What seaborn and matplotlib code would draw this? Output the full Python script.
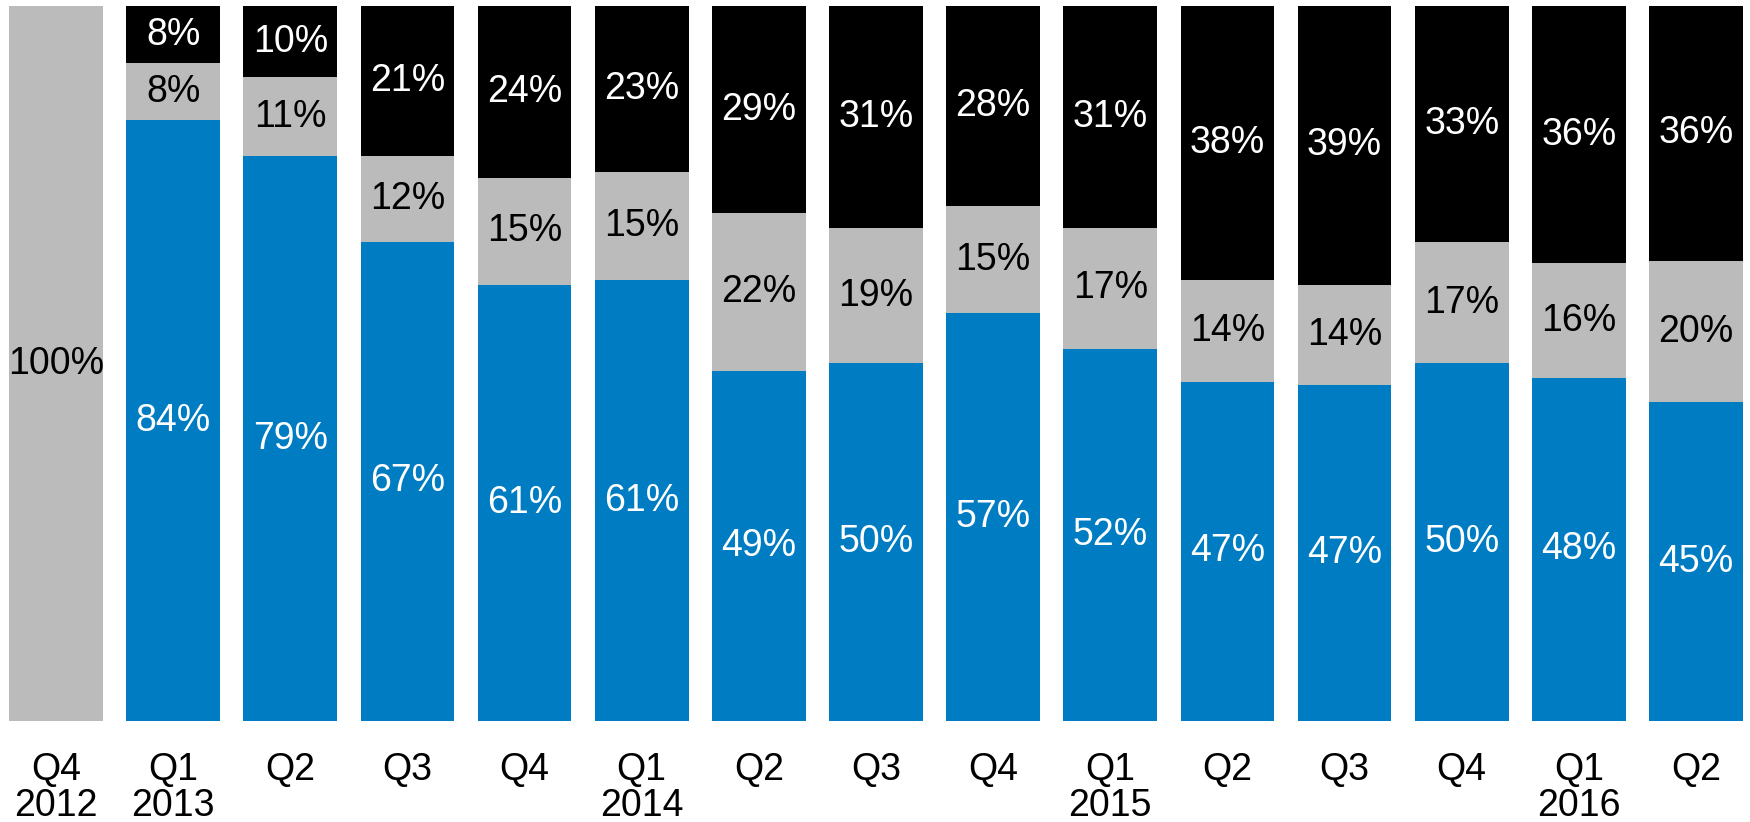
import numpy as np
import pandas as pd
import matplotlib
matplotlib.use("Agg")
import matplotlib.pyplot as plt
import seaborn as sns

quarters = ["Q4\n2012", "Q1\n2013", "Q2", "Q3", "Q4", "Q1\n2014", "Q2", "Q3", "Q4",
            "Q1\n2015", "Q2", "Q3", "Q4", "Q1\n2016", "Q2"]
blue_vals = [0, 84, 79, 67, 61, 61, 49, 50, 57, 52, 47, 47, 50, 48, 45]
gray_vals = [100, 8, 11, 12, 15, 15, 22, 19, 15, 17, 14, 14, 17, 16, 20]
black_vals = [0, 8, 10, 21, 24, 23, 29, 31, 28, 31, 38, 39, 33, 36, 36]

BLUE = "#007CC2"
GRAY = "#BBBBBB"
BLACK = "#000000"

sns.set_theme(style="white")
plt.rcParams["font.family"] = ["Liberation Sans", "DejaVu Sans"]

b = np.array(blue_vals, float)
g = np.array(gray_vals, float)
k = np.array(black_vals, float)
tot = b + g + k
bn, gn, kn = b / tot * 100, g / tot * 100, k / tot * 100

ids = [f"c{i}" for i in range(len(quarters))]
df = pd.DataFrame({"id": ids, "top": bn + gn + kn, "mid": bn + gn, "low": bn})

fig = plt.figure(figsize=(17.5, 8.22), dpi=100)
ax = fig.add_axes([0, 101 / 822, 1, 715 / 822])

sns.barplot(data=df, x="id", y="top", order=ids, color=BLACK, width=0.8,
            linewidth=0, saturation=1, ax=ax)
sns.barplot(data=df, x="id", y="mid", order=ids, color=GRAY, width=0.8,
            linewidth=0, saturation=1, ax=ax)
sns.barplot(data=df, x="id", y="low", order=ids, color=BLUE, width=0.8,
            linewidth=0, saturation=1, ax=ax)

fs = 27
for i in range(len(quarters)):
    if blue_vals[i] > 0:
        ax.text(i, bn[i] / 2, f"{blue_vals[i]}%", ha="center", va="center",
                color="white", fontsize=fs)
    if gray_vals[i] > 0:
        ax.text(i, bn[i] + gn[i] / 2, f"{gray_vals[i]}%", ha="center", va="center",
                color="black", fontsize=fs)
    if black_vals[i] > 0:
        ax.text(i, bn[i] + gn[i] + kn[i] / 2, f"{black_vals[i]}%", ha="center",
                va="center", color="white", fontsize=fs)

pitch = 1640 / 14
ax.set_xlim((0 - 56) / pitch, (1750 - 56) / pitch)
ax.set_ylim(0, 100)
ax.set_xticks(range(len(quarters)))
ax.set_xticklabels(quarters, fontsize=fs, linespacing=1.0, va="top", color="black")
ax.tick_params(axis="x", length=0, pad=22, labelcolor="black")
ax.set_yticks([])
ax.set_xlabel("")
ax.set_ylabel("")
for s in ax.spines.values():
    s.set_visible(False)

fig.savefig("out.png", dpi=100)
